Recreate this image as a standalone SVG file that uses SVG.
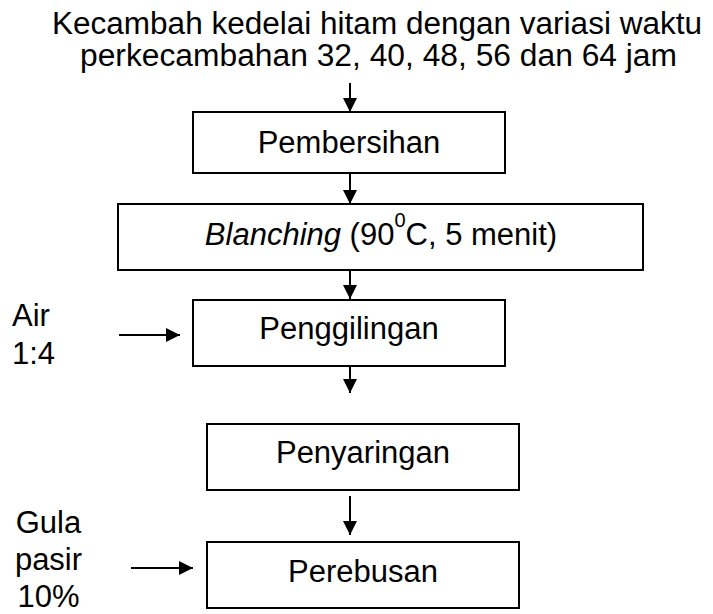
<svg xmlns="http://www.w3.org/2000/svg" width="713" height="614" viewBox="0 0 713 614">
<style>
  text { font-family: "Liberation Sans", Arial, sans-serif; font-size: 31px; fill: #000; }
  .mid { text-anchor: middle; }
  .box { fill: #fff; stroke: #000; stroke-width: 2; }
  .conn line { stroke: #000; stroke-width: 2; }
</style>
<defs>
  <marker id="arr" markerUnits="userSpaceOnUse" markerWidth="15" markerHeight="14" refX="14" refY="7" orient="auto">
    <path d="M0,0 L14,7 L0,14 z" fill="#000"/>
  </marker>
</defs>
<rect width="713" height="614" fill="#fff"/>

<g id="start">
  <text x="52" y="34" font-size="31.5" textLength="650" lengthAdjust="spacingAndGlyphs">Kecambah kedelai hitam dengan variasi waktu</text>
  <text x="80" y="66" font-size="31.5" textLength="597" lengthAdjust="spacingAndGlyphs">perkecambahan 32, 40, 48, 56 dan 64 jam</text>
</g>

<g id="pembersihan">
  <rect class="box" x="193" y="112" width="312" height="61"/>
  <text class="mid" x="349" y="153">Pembersihan</text>
</g>

<g id="blanching">
  <rect class="box" x="118" y="204" width="525" height="66"/>
  <text class="mid" x="381" y="245"><tspan font-style="italic">Blanching</tspan> (90<tspan font-size="20" dy="-18">0</tspan><tspan dy="18">C, 5 menit)</tspan></text>
</g>

<g id="penggilingan">
  <rect class="box" x="193" y="300" width="312" height="66"/>
  <text class="mid" x="349" y="339">Penggilingan</text>
</g>

<g id="air">
  <text x="12" y="326">Air</text>
  <text x="12" y="364">1:4</text>
</g>

<g id="penyaringan">
  <rect class="box" x="207" y="424" width="312" height="66"/>
  <text class="mid" x="363" y="463">Penyaringan</text>
</g>

<g id="perebusan">
  <rect class="box" x="207" y="542" width="312" height="66"/>
  <text class="mid" x="363" y="582">Perebusan</text>
</g>

<g id="gula">
  <text class="mid" x="48.5" y="533">Gula</text>
  <text class="mid" x="48.5" y="570">pasir</text>
  <text class="mid" x="48.5" y="607">10%</text>
</g>

<g id="connectors" class="conn">
  <line x1="350" y1="83" x2="350" y2="112" marker-end="url(#arr)"/>
  <line x1="350" y1="173" x2="350" y2="204" marker-end="url(#arr)"/>
  <line x1="350" y1="270" x2="350" y2="299" marker-end="url(#arr)"/>
  <line x1="350" y1="366" x2="350" y2="393" marker-end="url(#arr)"/>
  <line x1="350" y1="496" x2="350" y2="535" marker-end="url(#arr)"/>
  <line x1="119" y1="335" x2="180" y2="335" marker-end="url(#arr)"/>
  <line x1="131" y1="568" x2="193" y2="568" marker-end="url(#arr)"/>
</g>
</svg>
